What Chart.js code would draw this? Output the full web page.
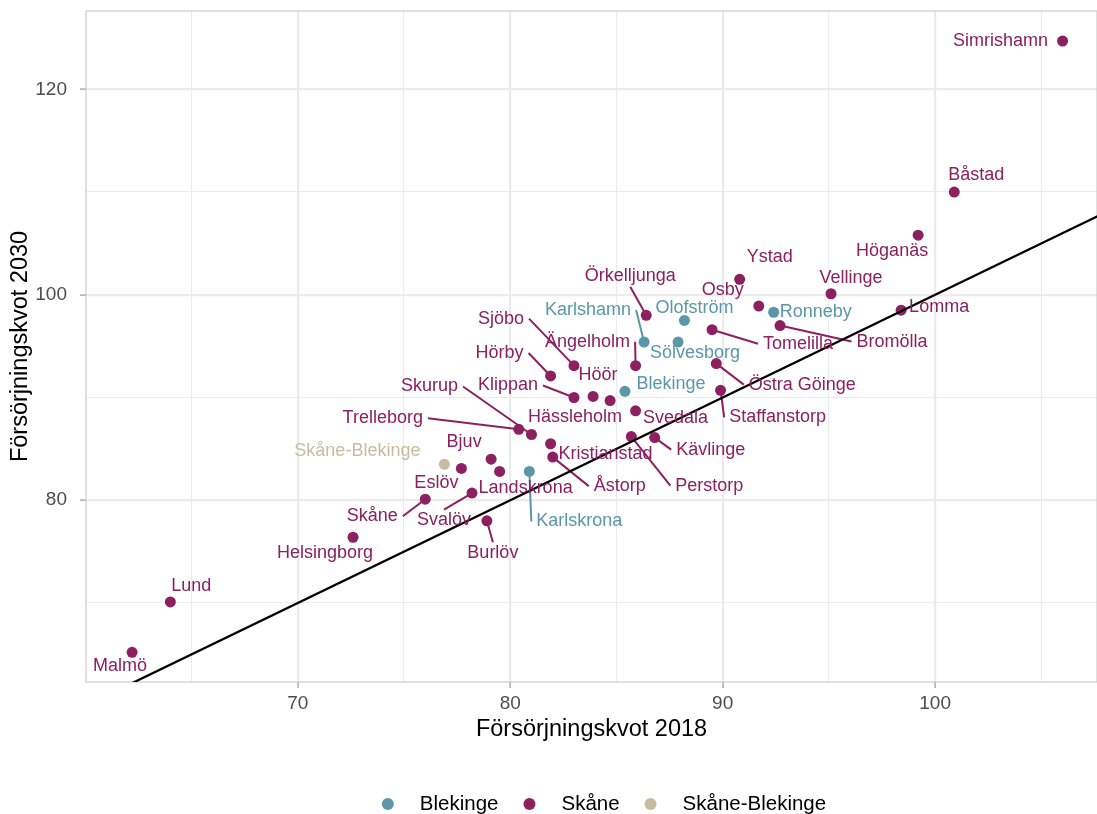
<!DOCTYPE html>
<html>
<head>
<meta charset="utf-8">
<script src="https://cdn.jsdelivr.net/npm/chart.js@4.4.1/dist/chart.umd.min.js"></script>
<style>
  html, body { margin: 0; padding: 0; background: #fff; }
</style>
</head>
<body>
<canvas id="c" width="1097" height="814"></canvas>
<script>
// Försörjningskvot 2018 (x) mot 2030 (y)
const skaneNames = ["Simrishamn", "Båstad", "Höganäs", "Vellinge", "Lomma", "Bromölla", "Osby", "Ystad",
  "Örkelljunga", "Tomelilla", "Sjöbo", "Ängelholm", "Hörby", "Klippan", "Hässleholm", "Höör",
  "Östra Göinge", "Staffanstorp", "Svedala", "Trelleborg", "Skurup", "Kristianstad", "Åstorp",
  "Perstorp", "Kävlinge", "Bjuv", "Landskrona", "Eslöv", "Svalöv", "Burlöv", "Skåne",
  "Helsingborg", "Lund", "Malmö"];
const skane2018 = [106.0, 100.9, 99.2, 95.1, 98.4, 92.7, 91.7, 90.8,
  86.4, 89.5, 83.0, 85.9, 81.9, 83.0, 83.9, 84.7,
  89.7, 89.9, 85.9, 80.4, 81.0, 81.9, 82.0,
  85.7, 86.8, 79.1, 79.5, 77.7, 78.2, 78.9, 76.0,
  72.6, 64.0, 62.2];
const skane2030 = [124.7, 110.0, 105.8, 100.1, 98.5, 97.0, 98.9, 101.5,
  98.0, 96.6, 93.1, 93.1, 92.1, 90.0, 90.1, 89.7,
  93.3, 90.7, 88.7, 86.9, 86.4, 85.5, 84.2,
  86.2, 86.1, 84.0, 82.8, 83.1, 80.7, 78.0, 80.1,
  76.4, 70.1, 65.2];

const blekingeNames = ["Ronneby", "Olofström", "Karlshamn", "Sölvesborg", "Blekinge", "Karlskrona"];
const blekinge2018 = [92.4, 88.2, 86.3, 87.9, 85.4, 80.9];
const blekinge2030 = [98.3, 97.5, 95.4, 95.4, 90.6, 82.8];

const bothNames = ["Skåne-Blekinge"];
const both2018 = [76.9];
const both2030 = [83.5];

const xTicks = [70, 80, 90, 100];
const yTicks = [80, 100, 120];

const colBlekinge = "#5B97A9";
const colSkane = "#8C2060";
const colBoth = "#C8BBA2";

// label placement (pixel offset from the point), repel-style
const labelOffset = {
  "Simrishamn": [-62, 0], "Båstad": [22, -17], "Höganäs": [-26, 16], "Vellinge": [20, -16],
  "Lomma": [38, -3], "Bromölla": [112, 16], "Osby": [-36, -16], "Ystad": [30, -22],
  "Örkelljunga": [-16, -39], "Tomelilla": [86, 14], "Sjöbo": [-73, -47], "Ängelholm": [-48, -24],
  "Hörby": [-51, -23], "Klippan": [-66, -12], "Hässleholm": [-18, 21], "Höör": [-12, -26],
  "Östra Göinge": [86, 21], "Staffanstorp": [57, 27], "Svedala": [40, 7], "Trelleborg": [-136, -11],
  "Skurup": [-102, -48], "Kristianstad": [55, 10], "Åstorp": [67, 29], "Perstorp": [78, 49],
  "Kävlinge": [56, 12], "Bjuv": [-27, -17], "Landskrona": [26, 17], "Eslöv": [-25, 15],
  "Svalöv": [-28, 27], "Burlöv": [6, 32], "Skåne": [-53, 17], "Helsingborg": [-28, 16],
  "Lund": [21, -16], "Malmö": [-12, 14],
  "Ronneby": [42, 0], "Olofström": [10, -12], "Karlshamn": [-56, -32], "Sölvesborg": [17, 11],
  "Blekinge": [46, -7], "Karlskrona": [50, 50],
  "Skåne-Blekinge": [-87, -13]
};
const withLine = ["Örkelljunga", "Karlshamn", "Sjöbo", "Ängelholm", "Hörby", "Klippan", "Skurup",
  "Trelleborg", "Tomelilla", "Bromölla", "Östra Göinge", "Staffanstorp", "Kävlinge", "Perstorp",
  "Åstorp", "Skåne", "Svalöv", "Karlskrona", "Burlöv"];

const FONT = '"Liberation Sans", Arial, Helvetica, sans-serif';
Chart.defaults.font.family = FONT;

function pts(xs, ys) {
  return xs.map((x, i) => ({ x: x, y: ys[i] }));
}

const labelPlugin = {
  id: 'repelLabels',
  draw(chart, mode) {
    const ctx = chart.ctx;
    ctx.save();
    ctx.font = '18px ' + FONT;
    ctx.textAlign = 'center';
    ctx.textBaseline = 'middle';
    chart.data.datasets.forEach((ds, di) => {
      if (!ds.names) return;
      const meta = chart.getDatasetMeta(di);
      meta.data.forEach((p, j) => {
        const name = ds.names[j];
        const off = labelOffset[name] || [0, -15];
        const cx = p.x + off[0], cy = p.y + off[1];
        if (mode === 'seg') {
          if (!withLine.includes(name)) return;
          const hw = ctx.measureText(name).width / 2 + 5, hh = 10.5;
          const dx = p.x - cx, dy = p.y - cy;
          let sx = cx, sy = cy;
          if (Math.abs(dx) > hw) sx = cx + Math.sign(dx) * hw;
          else sy = cy + Math.sign(dy) * hh;
          ctx.strokeStyle = ds.backgroundColor;
          ctx.lineWidth = 2;
          ctx.beginPath();
          ctx.moveTo(sx, sy);
          ctx.lineTo(p.x, p.y);
          ctx.stroke();
        } else {
          ctx.fillStyle = ds.backgroundColor;
          ctx.fillText(name, cx, cy);
        }
      });
    });
    ctx.restore();
  },
  beforeDatasetsDraw(chart) {
    const a = chart.chartArea, ctx = chart.ctx;
    ctx.save();
    ctx.strokeStyle = '#CCCCCC';
    ctx.lineWidth = 1.2;
    ctx.strokeRect(a.left, a.top, a.right - a.left, a.bottom - a.top);
    ctx.restore();
    this.draw(chart, 'seg');
  },
  afterDatasetsDraw(chart) {
    this.draw(chart, 'text');
  }
};

const legendPlugin = {
  id: 'bottomLegend',
  afterDraw(chart) {
    const ctx = chart.ctx;
    const items = chart.data.datasets.filter(d => d.names);
    ctx.save();
    ctx.font = '20.5px ' + FONT;
    ctx.textBaseline = 'middle';
    const r = 6, gapText = 26, gapItem = 25;
    const widths = items.map(d => ctx.measureText(d.label).width);
    let total = 0;
    widths.forEach((w, i) => { total += 2 * r + gapText + w + (i < widths.length - 1 ? gapItem : 0); });
    let x = 604 - total / 2;
    const y = 804;
    items.forEach((d, i) => {
      ctx.fillStyle = d.backgroundColor;
      ctx.beginPath();
      ctx.arc(x + r, y, r, 0, Math.PI * 2);
      ctx.fill();
      ctx.fillStyle = '#000';
      ctx.textAlign = 'left';
      ctx.fillText(d.label, x + 2 * r + gapText, y);
      x += 2 * r + gapText + widths[i] + gapItem;
    });
    ctx.restore();
  }
};

new Chart(document.getElementById('c'), {
  type: 'scatter',
  data: {
    datasets: [
      {
        type: 'line', label: 'y = x',
        data: [{ x: 55, y: 55 }, { x: 115, y: 115 }],
        borderColor: '#000', borderWidth: 2.3, pointRadius: 0, fill: false, order: 0
      },
      {
        label: 'Blekinge', names: blekingeNames, data: pts(blekinge2018, blekinge2030),
        backgroundColor: colBlekinge, borderWidth: 0, pointRadius: 5.5, order: 1
      },
      {
        label: 'Skåne', names: skaneNames, data: pts(skane2018, skane2030),
        backgroundColor: colSkane, borderWidth: 0, pointRadius: 5.5, order: 1
      },
      {
        label: 'Skåne-Blekinge', names: bothNames, data: pts(both2018, both2030),
        backgroundColor: colBoth, borderWidth: 0, pointRadius: 5.5, order: 1
      }
    ]
  },
  options: {
    responsive: false,
    animation: false,
    layout: { autoPadding: false, padding: { top: 11, right: 0, bottom: 0, left: 0 } },
    plugins: {
      legend: { display: false },
      tooltip: { enabled: false }
    },
    scales: {
      x: {
        type: 'linear', min: 60.03, max: 107.62,
        afterFit(scale) { scale.height = 132; scale.paddingLeft = 0; scale.paddingRight = 0; },
        ticks: {
          stepSize: 5, includeBounds: false, autoSkip: false, maxRotation: 0, padding: 4,
          color: '#4D4D4D', font: { size: 19 },
          callback: v => xTicks.includes(v) ? String(v) : ''
        },
        grid: {
          color: '#EBEBEB',
          lineWidth: c => (c.tick && c.tick.value % 10 === 0) ? 2.2 : 1.1,
          tickLength: 6, tickWidth: 1.5,
          tickColor: c => (c.tick && xTicks.includes(c.tick.value)) ? '#AAAAAA' : 'rgba(0,0,0,0)'
        },
        border: { display: false },
        title: {
          display: true, text: 'Försörjningskvot 2018', color: '#000',
          font: { size: 23.5 }, padding: { top: 0, bottom: 70 }
        }
      },
      y: {
        type: 'linear', min: 62.31, max: 127.62,
        afterFit(scale) { scale.width = 86; scale.paddingTop = 0; scale.paddingBottom = 0; },
        ticks: {
          stepSize: 10, includeBounds: false, autoSkip: false, padding: 13,
          color: '#4D4D4D', font: { size: 19 },
          callback: v => yTicks.includes(v) ? String(v) : ''
        },
        grid: {
          color: '#EBEBEB',
          lineWidth: c => (c.tick && c.tick.value % 20 === 0) ? 2.2 : 1.1,
          tickLength: 6, tickWidth: 1.5,
          tickColor: c => (c.tick && yTicks.includes(c.tick.value)) ? '#AAAAAA' : 'rgba(0,0,0,0)'
        },
        border: { display: false },
        title: {
          display: true, text: 'Försörjningskvot 2030', color: '#000',
          font: { size: 23.5 }, padding: { top: 6, bottom: 0 }
        }
      }
    }
  },
  plugins: [labelPlugin, legendPlugin]
});
</script>
</body>
</html>
